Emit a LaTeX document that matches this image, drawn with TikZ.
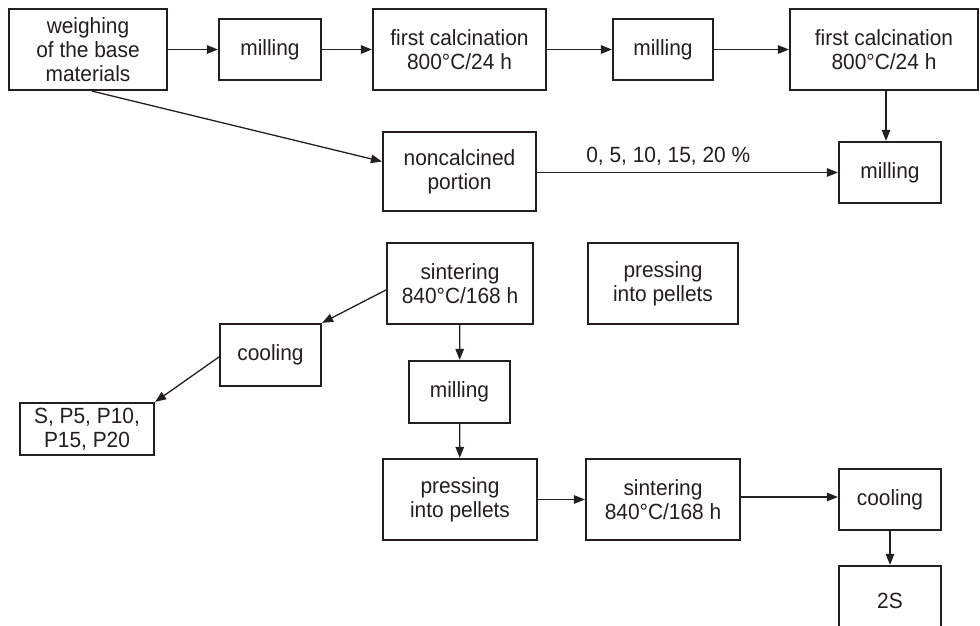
\documentclass[tikz,border=0pt]{standalone}
\usepackage{fontspec}
\setmainfont{Liberation Sans}[FakeStretch=0.95]
\usetikzlibrary{arrows.meta,calc}
\definecolor{ink}{HTML}{231F20}
\begin{document}
\begin{tikzpicture}[x=1pt,y=-1pt,
  font=\fontsize{22}{24}\selectfont,
  box/.style={draw=ink,line width=2.2pt,text=ink,align=center,inner sep=0pt,
              minimum width=#1},
  conn/.style={draw=ink,line width=1.3pt,-{Triangle[length=11pt,width=8.5pt]}}]
\clip (0,0) rectangle (980,626);
\fill[white] (0,0) rectangle (980,626);
% top row
\node[box=158pt,minimum height=81pt] (weigh) at (88,49.5) {weighing\\of the base\\materials};
\node[box=102pt,minimum height=61pt] (mill1) at (270,49.5) {milling};
\node[box=173pt,minimum height=81pt] (calc1) at (459.5,49.5) {first calcination\\800°C/24 h};
\node[box=100pt,minimum height=61pt] (mill2) at (663,49.5) {milling};
\node[box=188pt,minimum height=81pt] (calc2) at (884,49.5) {first calcination\\800°C/24 h};
% second row
\node[box=153pt,minimum height=79pt] (noncal) at (459.5,171.5) {noncalcined\\portion};
\node[box=102pt,minimum height=61pt] (mill3) at (890,172.5) {milling};
% third block
\node[box=146pt,minimum height=81pt] (sint1) at (460,283.5) {sintering\\840°C/168 h};
\node[box=150pt,minimum height=81pt] (press1) at (663,283.5) {pressing\\into pellets};
\node[box=101pt,minimum height=62pt] (cool1) at (270.5,355) {cooling};
\node[box=101pt,minimum height=62pt] (mill4) at (459.5,392) {milling};
\node[box=134pt,minimum height=52pt] (sres) at (87,429) {S, P5, P10,\\P15, P20};
\node[box=154pt,minimum height=81pt] (press2) at (460,499.5) {pressing\\into pellets};
\node[box=154pt,minimum height=81pt] (sint2) at (663,499.5) {sintering\\840°C/168 h};
\node[box=102pt,minimum height=61pt] (cool2) at (890,499.5) {cooling};
\node[box=102pt,minimum height=70pt] (res2) at (890,601) {2S};
% connectors
\draw[conn] (weigh) -- (mill1);
\draw[conn] (mill1) -- (calc1);
\draw[conn] (calc1) -- (mill2);
\draw[conn] (mill2) -- (calc2);
\draw[conn] ([xshift=-4pt]mill3.north |- calc2.south) -- ([xshift=-4pt]mill3.north);
\draw[conn] ([xshift=4pt]weigh.south) -- ([yshift=10pt]noncal.west);
\draw[conn] (noncal.east |- mill3.west) -- node[pos=0.436,above=3pt,text=ink]{0, 5, 10, 15, 20 \%} (mill3.west);
\draw[conn] ([yshift=-6.5pt]sint1.west) -- (cool1.north east);
\draw[conn] ([yshift=-2pt]cool1.west) -- (sres.north east);
\draw[conn] (sint1) -- (mill4);
\draw[conn] (mill4) -- (press2);
\draw[conn] (press2) -- (sint2);
\draw[conn] ([yshift=2.5pt]sint2.east) -- ([yshift=2.5pt]cool2.west);
\draw[conn] (cool2) -- (res2);
\end{tikzpicture}
\end{document}
